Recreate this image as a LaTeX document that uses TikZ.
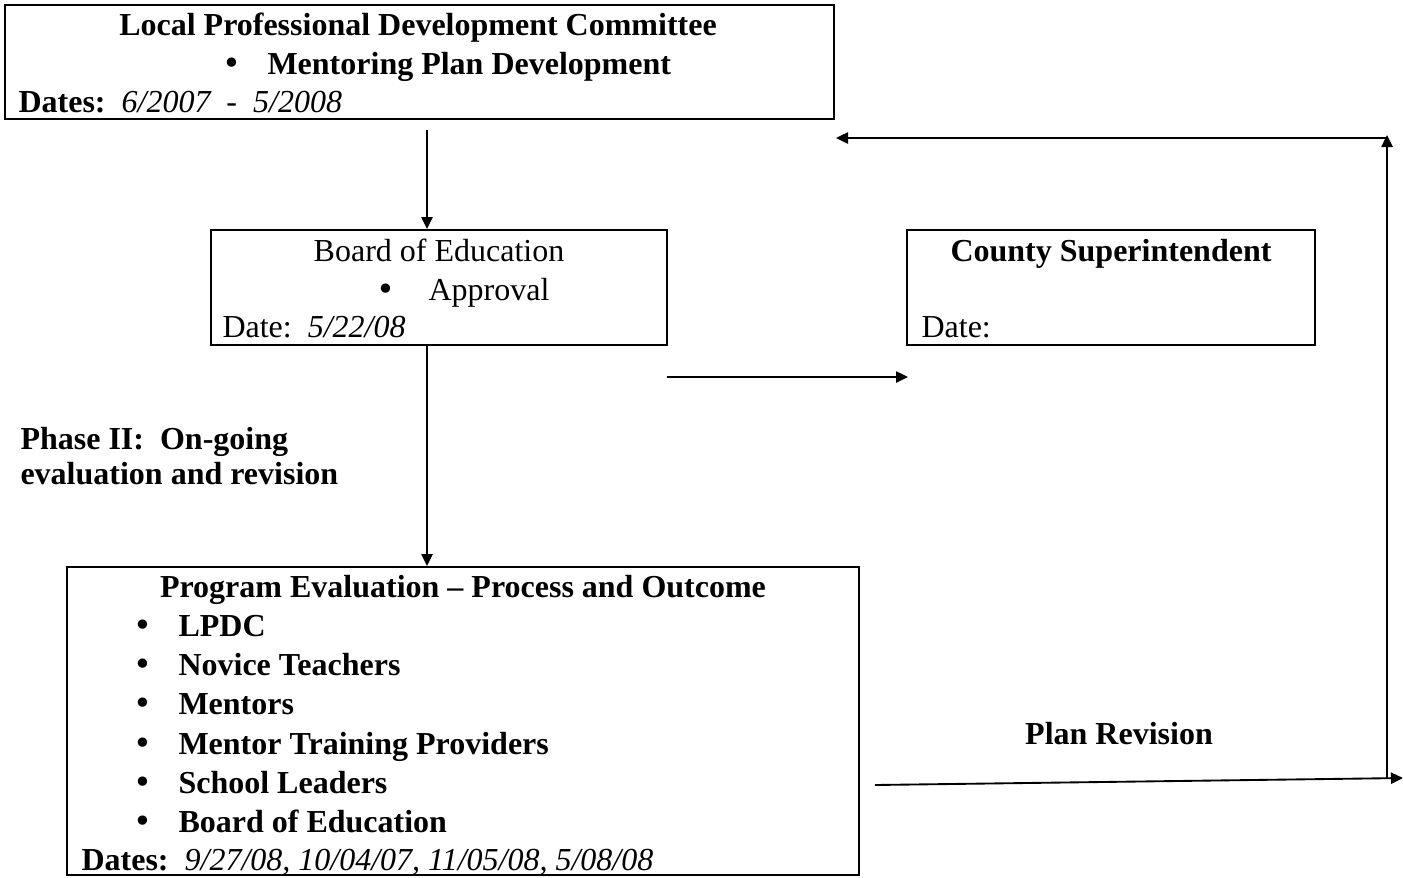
\documentclass[tikz,border=0pt]{standalone}
\usepackage{fontspec}
\setmainfont{Liberation Serif}
\newfontfamily\bulfont{DejaVu Sans}
\usetikzlibrary{arrows.meta}
\begin{document}
\begin{tikzpicture}[x=0.375pt,y=-0.375pt,
  box/.style={draw, line width=1.1pt, rectangle, inner sep=0pt},
  txt/.style={inner sep=0pt, font=\fontsize{12pt}{14pt}\selectfont},
  bf/.style={txt, font=\fontsize{12pt}{14pt}\selectfont\bfseries},
  bul/.style={inner sep=0pt, anchor=base, font=\fontsize{12pt}{14pt}\bulfont},
  arr/.style={line width=0.7pt, -{Triangle[length=4.5pt,width=4.2pt]}}]
\useasboundingbox (0,0) rectangle (1403,877);

% boxes
\node[box, minimum width=829*0.375pt, minimum height=114*0.375pt] (b1) at (419.5,62) {};
\node[box, minimum width=456*0.375pt, minimum height=115*0.375pt] (b2) at (439,287.5) {};
\node[box, minimum width=408*0.375pt, minimum height=115*0.375pt] (b3) at (1111,287.5) {};
\node[box, minimum width=792*0.375pt, minimum height=308*0.375pt] (b4) at (463,721) {};

% box 1 text
\node[bf, anchor=base] (t1a) at (418,35) {Local Professional Development Committee};
\node[bul] (t1b) at (232,74) {•};
\node[bf, anchor=base west] (t1c) at (267,74) {Mentoring Plan Development};
\node[txt, anchor=base west] (t1d) at (18,112) {\textbf{Dates:}\ \ \textit{6/2007\ \ -\ \ 5/2008}};

% box 2 text
\node[txt, anchor=base] (t2a) at (439,261) {Board of Education};
\node[bul] (t2b) at (386,300) {•};
\node[txt, anchor=base west] (t2c) at (428,300) {Approval};
\node[txt, anchor=base west] (t2d) at (222,337) {Date:\ \ \textit{5/22/08}};

% box 3 text
\node[bf, anchor=base] (t3a) at (1111,261) {County Superintendent};
\node[txt, anchor=base west] (t3b) at (921,337) {Date:};

% phase label
\node[bf, anchor=base west] (ph1) at (20,449) {Phase II:\ \ On-going};
\node[bf, anchor=base west] (ph2) at (20,484) {evaluation and revision};

% box 4 text
\node[bf, anchor=base] (t4a) at (463,597) {Program Evaluation – Process and Outcome};
\node[bul] (k1) at (143,636) {•};
\node[bf, anchor=base west] (i1) at (178,636) {LPDC};
\node[bul] (k2) at (143,675) {•};
\node[bf, anchor=base west] (i2) at (178,675) {Novice Teachers};
\node[bul] (k3) at (143,714) {•};
\node[bf, anchor=base west] (i3) at (178,714) {Mentors};
\node[bul] (k4) at (143,754) {•};
\node[bf, anchor=base west] (i4) at (178,754) {Mentor Training Providers};
\node[bul] (k5) at (143,793) {•};
\node[bf, anchor=base west] (i5) at (178,793) {School Leaders};
\node[bul] (k6) at (143,832) {•};
\node[bf, anchor=base west] (i6) at (178,832) {Board of Education};
\node[txt, anchor=base west] (t4d) at (81,870) {\textbf{Dates:}\ \ \textit{9/27/08, 10/04/07, 11/05/08, 5/08/08}};

% plan revision label
\node[bf, anchor=base] (pr) at (1119,744) {Plan Revision};

% connector end points
\coordinate (a1s) at (427,130);
\coordinate (a1e) at (427,229);
\coordinate (a2s) at (427,346);
\coordinate (a2e) at (427,566);
\coordinate (a3s) at (667,377);
\coordinate (a3e) at (908,377);
\coordinate (a4s) at (875,785);
\coordinate (a4e) at (1403,778);
\coordinate (a5s) at (1387,778);
\coordinate (a5e) at (1387,135);
\coordinate (a6s) at (1387,138);
\coordinate (a6e) at (836,138);

\draw[arr] (a1s) -- (a1e);
\draw[arr] (a2s) -- (a2e);
\draw[arr] (a3s) -- (a3e);
\draw[arr] (a4s) -- (a4e);
\draw[arr] (a5s) -- (a5e);
\draw[arr] (a6s) -- (a6e);
\end{tikzpicture}
\end{document}
